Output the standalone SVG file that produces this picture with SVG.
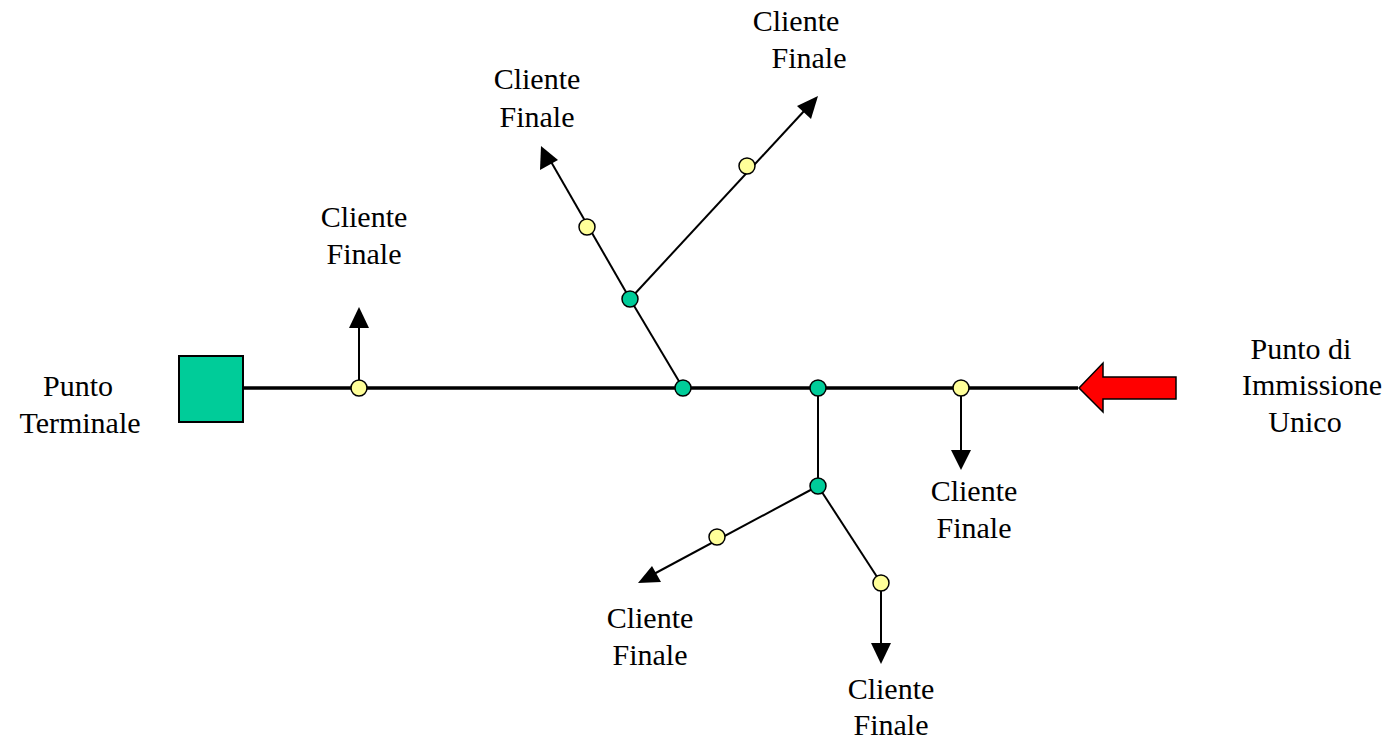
<svg xmlns="http://www.w3.org/2000/svg" width="1385" height="740" viewBox="0 0 1385 740">
<style>
.t{font-family:"Liberation Serif","Times New Roman",serif;font-size:30px;fill:#000;text-anchor:middle}
.ln{stroke:#000;stroke-width:2;fill:none}
.main{stroke:#000;stroke-width:3.5;fill:none}
.y{fill:#FFFF99;stroke:#000;stroke-width:1.5}
.g{fill:#00CC99;stroke:#000;stroke-width:1.5}
.ah{fill:#000}
</style>
<rect width="1385" height="740" fill="#fff"/>
<g id="connectors">
<line class="main" x1="243" y1="388" x2="1078" y2="388"/>
<line class="ln" x1="359" y1="388" x2="359" y2="326"/>
<polygon class="ah" points="359,307 349,328 369,328"/>
<line class="ln" x1="683" y1="388" x2="630" y2="299"/>
<line class="ln" x1="630" y1="299" x2="550" y2="160"/>
<polygon class="ah" points="541,146 540,170 558,160"/>
<line class="ln" x1="630" y1="299" x2="805" y2="110"/>
<polygon class="ah" points="818,96 797,106 811,119"/>
<line class="ln" x1="818" y1="388" x2="818" y2="486"/>
<line class="ln" x1="818" y1="486" x2="652" y2="575"/>
<polygon class="ah" points="638,583 661,582 652,566"/>
<line class="ln" x1="818" y1="486" x2="881" y2="583"/>
<line class="ln" x1="881" y1="583" x2="881" y2="645"/>
<polygon class="ah" points="881,664 871,643 891,643"/>
<line class="ln" x1="961" y1="388" x2="961" y2="452"/>
<polygon class="ah" points="961,470 951,450 971,450"/>
</g>
<g id="punto-terminale">
<rect x="179" y="356" width="64" height="66" fill="#00CC99" stroke="#000" stroke-width="2"/>
<text class="t" x="78" y="396">Punto</text>
<text class="t" x="80" y="433">Terminale</text>
</g>
<g id="punto-immissione">
<polygon points="1079,388 1103,363 1103,377 1176,377 1176,399 1103,399 1103,412" fill="#FF0000" stroke="#000" stroke-width="1.5"/>
<text class="t" x="1301" y="359">Punto di</text>
<text class="t" x="1312" y="395">Immissione</text>
<text class="t" x="1305" y="432">Unico</text>
</g>
<g id="nodes">
<circle class="y" cx="359" cy="388" r="8"/>
<circle class="g" cx="683" cy="388" r="8"/>
<circle class="g" cx="818" cy="388" r="8"/>
<circle class="y" cx="961" cy="388" r="8"/>
<circle class="g" cx="630" cy="299" r="8"/>
<circle class="y" cx="587" cy="227" r="8"/>
<circle class="y" cx="747" cy="166" r="8"/>
<circle class="g" cx="818" cy="486" r="8"/>
<circle class="y" cx="717" cy="537" r="8"/>
<circle class="y" cx="881" cy="583" r="8"/>
</g>
<g id="cliente-1"><text class="t" x="364" y="227">Cliente</text><text class="t" x="364" y="264">Finale</text></g>
<g id="cliente-2"><text class="t" x="537" y="89">Cliente</text><text class="t" x="537" y="127">Finale</text></g>
<g id="cliente-3"><text class="t" x="796" y="31">Cliente</text><text class="t" x="809" y="68">Finale</text></g>
<g id="cliente-4"><text class="t" x="974" y="501">Cliente</text><text class="t" x="974" y="538">Finale</text></g>
<g id="cliente-5"><text class="t" x="650" y="628">Cliente</text><text class="t" x="650" y="665">Finale</text></g>
<g id="cliente-6"><text class="t" x="891" y="699">Cliente</text><text class="t" x="891" y="735">Finale</text></g>
</svg>
